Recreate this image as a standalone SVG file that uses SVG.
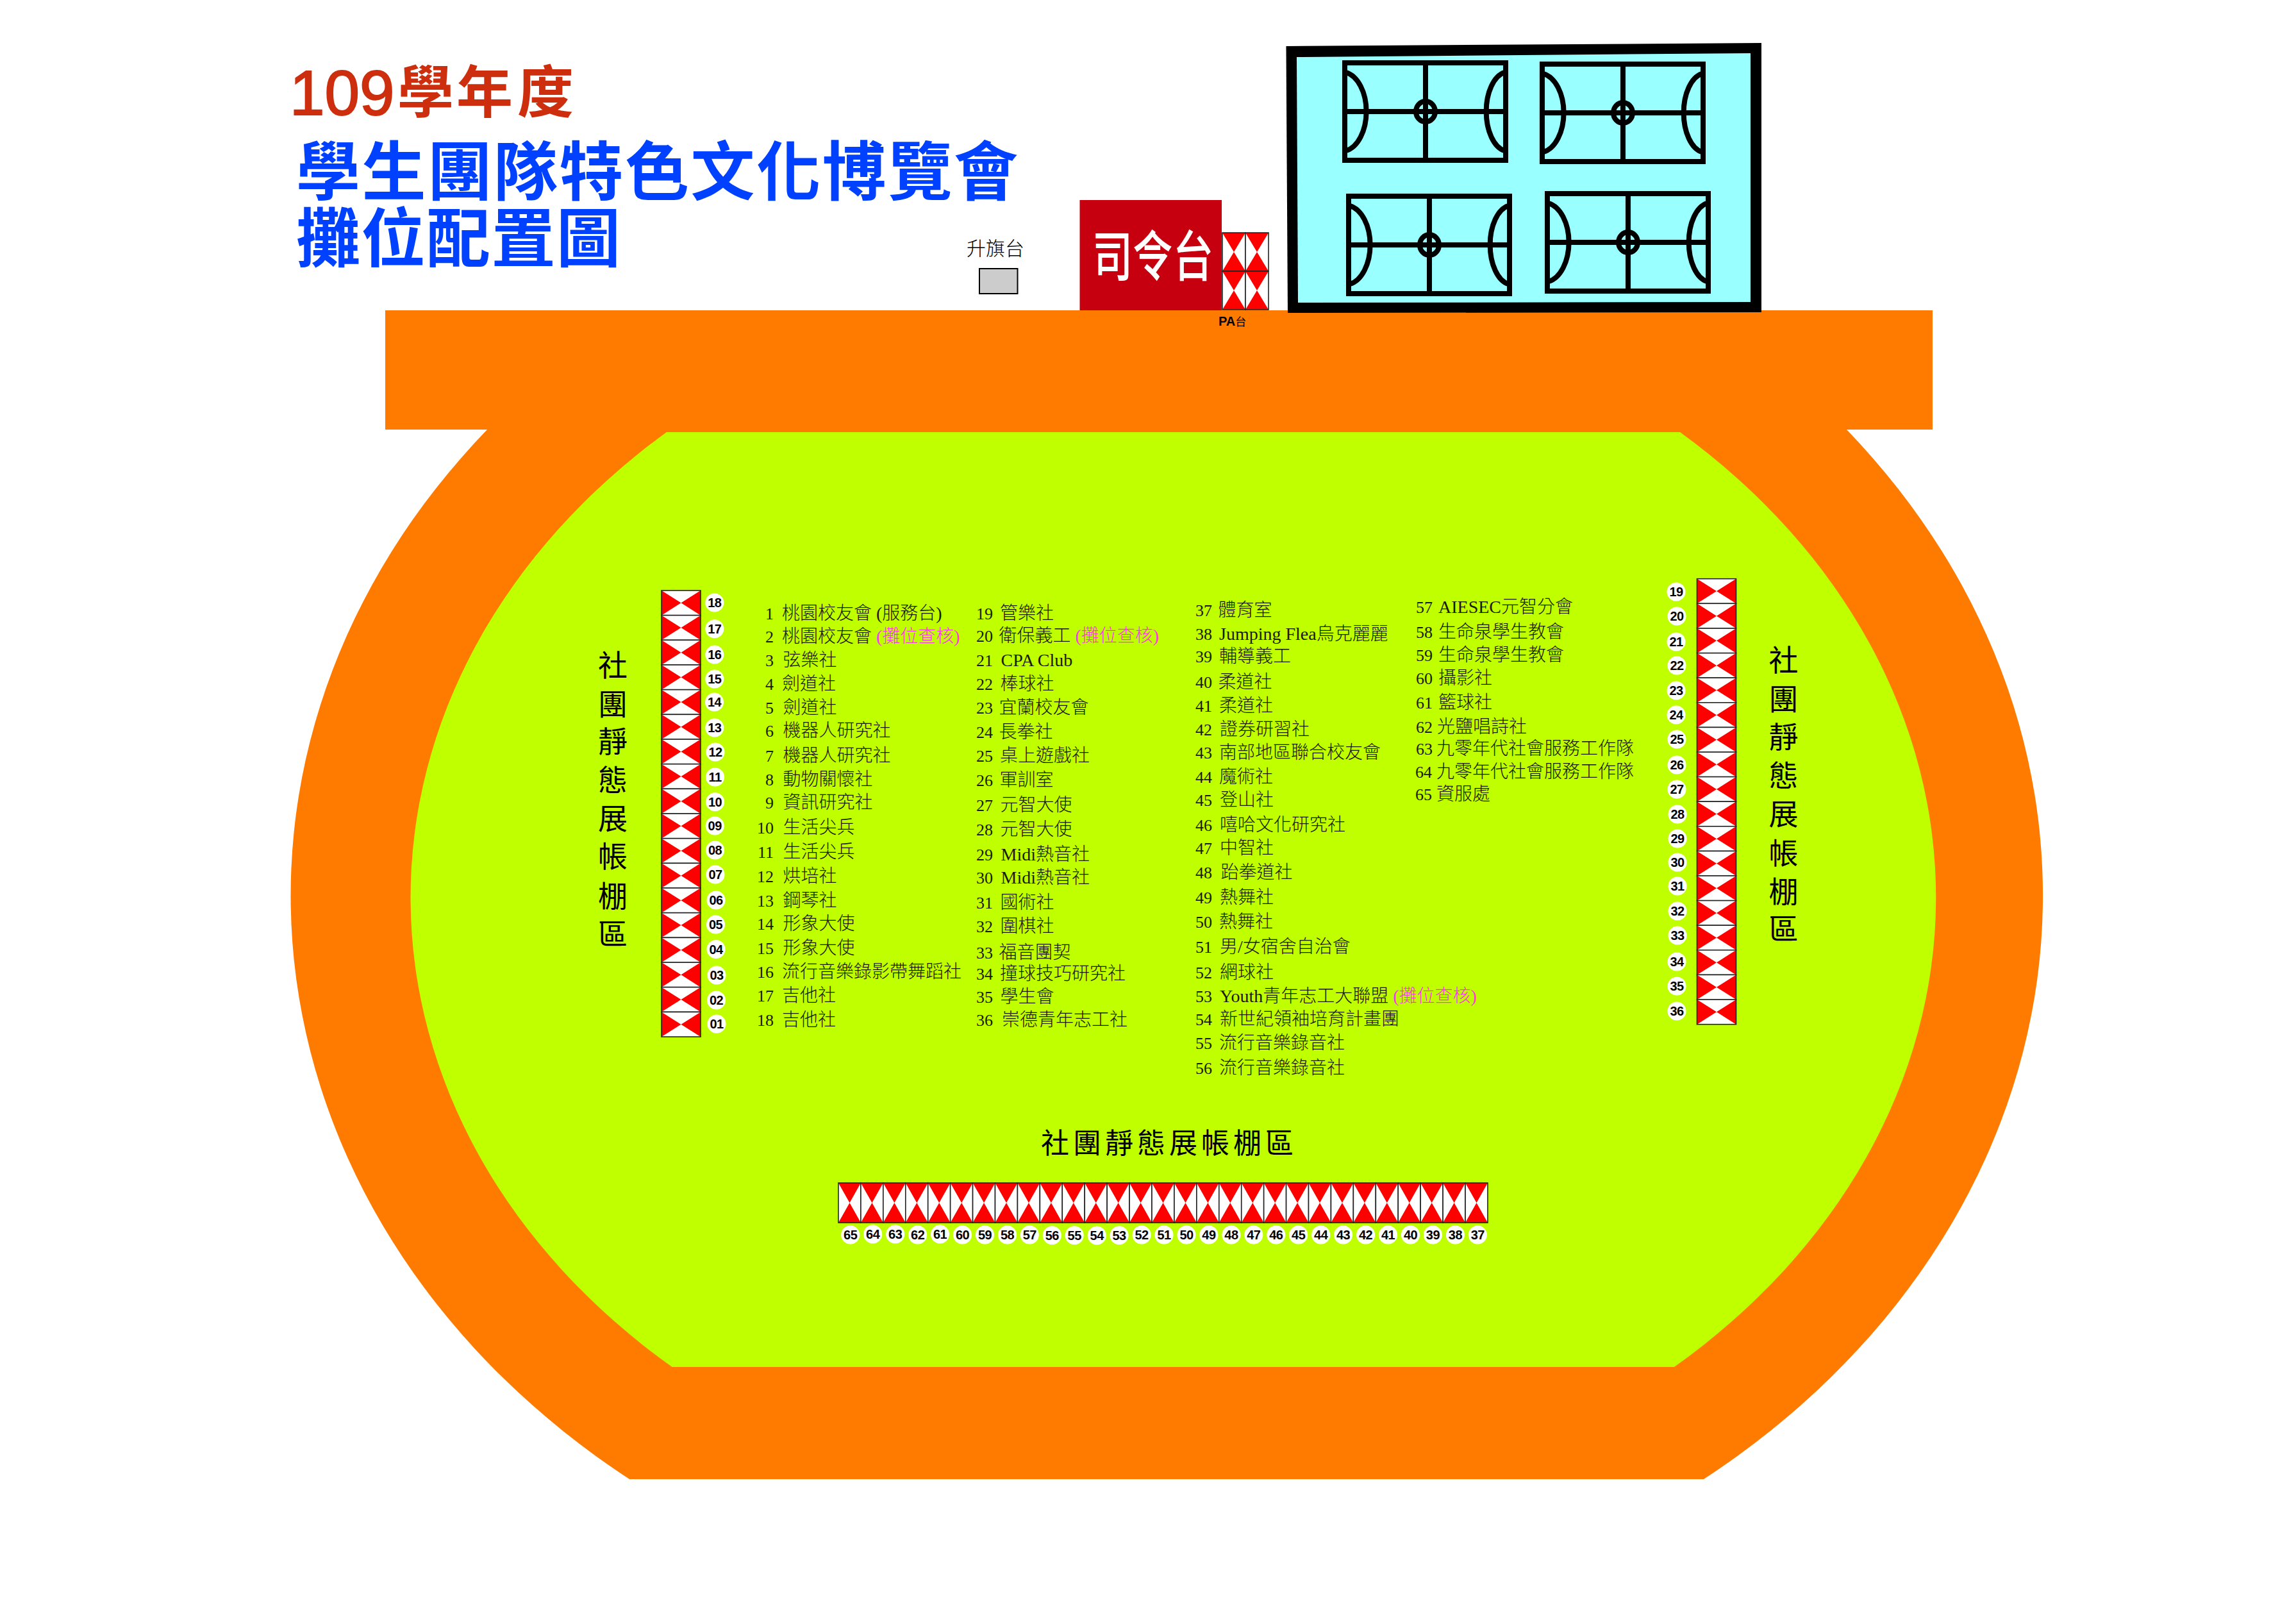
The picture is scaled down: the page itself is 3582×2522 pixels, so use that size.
<svg xmlns="http://www.w3.org/2000/svg" width="3582" height="2522" viewBox="0 0 3582 2522">
<style>
.cjk{font-family:"Noto Sans CJK TC","Liberation Sans",sans-serif}
.li{font-family:"Liberation Serif","Noto Sans CJK TC",serif;font-size:28px;font-weight:300;fill:#1a1a00}
.li .r{text-anchor:end;font-size:26px}
.pk{fill:#ff33ee}
.bad{fill:#fff}
.no{font-family:"Liberation Sans",sans-serif;font-weight:700;font-size:20px;text-anchor:middle;fill:#000;letter-spacing:-.5px}
.lbl{font-family:"Noto Sans CJK TC",sans-serif;font-size:46px;fill:#000;text-anchor:middle}
.cl{fill:none;stroke:#000;stroke-width:8}
.ca{fill:none;stroke:#000;stroke-width:8}
</style>
<defs>
<g id="cellH"><rect width="61" height="38.67" fill="#f00"/><path d="M0 0H61L30.5 19.33ZM0 38.67H61L30.5 19.33Z" fill="#fff"/><rect width="61" height="38.67" fill="none" stroke="#222" stroke-width="1.6"/></g>
<g id="cellV"><rect width="34.93" height="62" fill="#f00"/><path d="M0 0V62L17.5 31ZM34.93 0V62L17.5 31Z" fill="#fff"/><rect width="34.93" height="62" fill="none" stroke="#222" stroke-width="1.6"/></g>
<g id="cellP"><rect width="36" height="60" fill="#f00"/><path d="M0 0V60L18 30ZM36 0V60L18 30Z" fill="#fff"/><rect width="36" height="60" fill="none" stroke="#222" stroke-width="1.6"/></g>
<g id="court"><rect x="4" y="4" width="251" height="152" class="cl"/><path d="M130 4V156M4 80H255" class="cl"/><ellipse cx="130" cy="80" rx="15" ry="16" class="ca"/><path d="M6 19A38.500 62 0 0 1 6 141M253 19A34.500 62 0 0 0 253 141" class="ca"/></g>
</defs>
<rect width="3582" height="2522" fill="#fff"/>
<g id="track">
<rect x="601" y="484" width="2414" height="186" fill="#ff7b00"/>
<path d="M761 669A1366.500 1152 0 0 0 982 2307H2658A1366.500 1152 0 0 0 2880 669Z" fill="#ff7b00"/>
<path d="M1040 674A1189.500 971 0 0 0 1048.600 2132H2612A1189.500 971 0 0 0 2621 674Z" fill="#bfff00"/>
</g>
<g id="title">
<text y="179" fill="#cc2e0e" font-family="Liberation Sans,sans-serif" font-size="98" x="452" stroke="#cc2e0e" stroke-width="2">109</text>
<text class="cjk" y="175" fill="#cc2e0e" font-weight="700" font-size="88" x="620 712 807">學年度</text>
<text class="cjk" x="462" y="304" fill="#0040ff" font-weight="700" font-size="100" letter-spacing="2.6">學生團隊特色文化博覽會</text>
<text class="cjk" x="462" y="408" fill="#0040ff" font-weight="700" font-size="100" letter-spacing="1.5">攤位配置圖</text>
</g>
<g id="flag-platform">
<text class="cjk" x="1508" y="398" font-size="30" font-weight="300" fill="#000">升旗台</text>
<rect x="1528" y="419" width="59.500" height="39" fill="#ccc" stroke="#000" stroke-width="2"/>
</g>
<g id="stage">
<rect x="1684.500" y="312" width="221.500" height="172" fill="#c70010"/>
<text class="cjk" transform="translate(1704,431) scale(1,1.36)" font-size="63" fill="#fff" font-weight="500">司令台</text>
</g>
<g id="pa">
<use href="#cellP" x="1907" y="363"/><use href="#cellP" x="1943" y="363"/><use href="#cellP" x="1907" y="423"/><use href="#cellP" x="1943" y="423"/>
<text x="1901" y="508" font-family="Liberation Sans,Noto Sans CJK TC,sans-serif" font-weight="700" font-size="20" fill="#000">PA<tspan class="cjk" font-weight="400" font-size="17">台</tspan></text>
</g>
<g id="courts">
<polygon points="2006.500,72 2748,67 2748,487 2009,488" fill="#000"/>
<polygon points="2023,89 2731,83 2731,471 2025,472" fill="#9ff"/>
<use href="#court" x="2094" y="94"/><use href="#court" x="2402" y="96"/><use href="#court" x="2100" y="302"/><use href="#court" x="2410" y="298"/>
</g>
<g id="tents-left">
<use href="#cellH" x="1032" y="921"/><use href="#cellH" x="1032" y="959.670"/><use href="#cellH" x="1032" y="998.340"/><use href="#cellH" x="1032" y="1037"/><use href="#cellH" x="1032" y="1075.680"/><use href="#cellH" x="1032" y="1114.350"/><use href="#cellH" x="1032" y="1153"/><use href="#cellH" x="1032" y="1191.700"/><use href="#cellH" x="1032" y="1230.360"/><use href="#cellH" x="1032" y="1269"/><use href="#cellH" x="1032" y="1307.700"/><use href="#cellH" x="1032" y="1346.370"/><use href="#cellH" x="1032" y="1385"/><use href="#cellH" x="1032" y="1423.700"/><use href="#cellH" x="1032" y="1462.400"/><use href="#cellH" x="1032" y="1501"/><use href="#cellH" x="1032" y="1539.700"/><use href="#cellH" x="1032" y="1578.400"/>
<g class="bad"><circle cx="1114.800" cy="940" r="14.500"/><circle cx="1114.800" cy="980.700" r="14.500"/><circle cx="1114.800" cy="1021" r="14.500"/><circle cx="1114.800" cy="1059" r="14.500"/><circle cx="1114.500" cy="1095" r="14.500"/><circle cx="1114.800" cy="1135" r="14.500"/><circle cx="1116" cy="1173" r="14.500"/><circle cx="1115.600" cy="1212" r="14.500"/><circle cx="1115.600" cy="1250.700" r="14.500"/><circle cx="1115.200" cy="1288" r="14.500"/><circle cx="1115.600" cy="1326" r="14.500"/><circle cx="1116" cy="1364" r="14.500"/><circle cx="1117" cy="1404" r="14.500"/><circle cx="1116.500" cy="1442" r="14.500"/><circle cx="1117" cy="1480.600" r="14.500"/><circle cx="1118" cy="1521" r="14.500"/><circle cx="1117.500" cy="1560" r="14.500"/><circle cx="1118" cy="1597" r="14.500"/></g>
<g class="no"><text x="1114.800" y="947">18</text><text x="1114.800" y="988">17</text><text x="1114.800" y="1028">16</text><text x="1114.800" y="1066">15</text><text x="1114.500" y="1102">14</text><text x="1114.800" y="1142">13</text><text x="1116" y="1180">12</text><text x="1115.600" y="1219">11</text><text x="1115.600" y="1258">10</text><text x="1115.200" y="1295">09</text><text x="1115.600" y="1333">08</text><text x="1116" y="1371">07</text><text x="1117" y="1411">06</text><text x="1116.500" y="1449">05</text><text x="1117" y="1488">04</text><text x="1118" y="1528">03</text><text x="1117.500" y="1567">02</text><text x="1118" y="1604">01</text></g>
<text class="lbl" x="956 956 956 956 956 956 956 956" y="1054 1115 1173 1233 1293 1352 1414 1473">社團靜態展帳棚區</text>
</g>
<g id="tents-right">
<use href="#cellH" x="2647.500" y="902.700"/><use href="#cellH" x="2647.500" y="941.300"/><use href="#cellH" x="2647.500" y="980"/><use href="#cellH" x="2647.500" y="1018.600"/><use href="#cellH" x="2647.500" y="1057.200"/><use href="#cellH" x="2647.500" y="1095.800"/><use href="#cellH" x="2647.500" y="1134.400"/><use href="#cellH" x="2647.500" y="1173"/><use href="#cellH" x="2647.500" y="1211.600"/><use href="#cellH" x="2647.500" y="1250.200"/><use href="#cellH" x="2647.500" y="1288.800"/><use href="#cellH" x="2647.500" y="1327.400"/><use href="#cellH" x="2647.500" y="1366"/><use href="#cellH" x="2647.500" y="1404.600"/><use href="#cellH" x="2647.500" y="1443.200"/><use href="#cellH" x="2647.500" y="1481.800"/><use href="#cellH" x="2647.500" y="1520.400"/><use href="#cellH" x="2647.500" y="1559"/>
<g class="bad"><circle cx="2615" cy="923" r="14.500"/><circle cx="2616" cy="961" r="14.500"/><circle cx="2615" cy="1001" r="14.500"/><circle cx="2616" cy="1038" r="14.500"/><circle cx="2615" cy="1077" r="14.500"/><circle cx="2615" cy="1115" r="14.500"/><circle cx="2616" cy="1153" r="14.500"/><circle cx="2616" cy="1193" r="14.500"/><circle cx="2616" cy="1231" r="14.500"/><circle cx="2617" cy="1270" r="14.500"/><circle cx="2617" cy="1308" r="14.500"/><circle cx="2617" cy="1345" r="14.500"/><circle cx="2617" cy="1382" r="14.500"/><circle cx="2617" cy="1421" r="14.500"/><circle cx="2617" cy="1459" r="14.500"/><circle cx="2616" cy="1500" r="14.500"/><circle cx="2616" cy="1538" r="14.500"/><circle cx="2616" cy="1577" r="14.500"/></g>
<g class="no"><text x="2615" y="930">19</text><text x="2616" y="968">20</text><text x="2615" y="1008">21</text><text x="2616" y="1045">22</text><text x="2615" y="1084">23</text><text x="2615" y="1122">24</text><text x="2616" y="1160">25</text><text x="2616" y="1200">26</text><text x="2616" y="1238">27</text><text x="2617" y="1277">28</text><text x="2617" y="1315">29</text><text x="2617" y="1352">30</text><text x="2617" y="1389">31</text><text x="2617" y="1428">32</text><text x="2617" y="1466">33</text><text x="2616" y="1507">34</text><text x="2616" y="1545">35</text><text x="2616" y="1584">36</text></g>
<text class="lbl" x="2782.500 2782.500 2782.500 2782.500 2782.500 2782.500 2782.500 2782.500" y="1046 1107 1166 1226 1286 1347 1407 1465">社團靜態展帳棚區</text>
</g>
<g id="tents-bottom">
<use href="#cellV" x="1308" y="1845"/><use href="#cellV" x="1342.930" y="1845"/><use href="#cellV" x="1377.860" y="1845"/><use href="#cellV" x="1412.790" y="1845"/><use href="#cellV" x="1447.720" y="1845"/><use href="#cellV" x="1482.650" y="1845"/><use href="#cellV" x="1517.580" y="1845"/><use href="#cellV" x="1552.510" y="1845"/><use href="#cellV" x="1587.440" y="1845"/><use href="#cellV" x="1622.370" y="1845"/><use href="#cellV" x="1657.300" y="1845"/><use href="#cellV" x="1692.230" y="1845"/><use href="#cellV" x="1727.160" y="1845"/><use href="#cellV" x="1762.090" y="1845"/><use href="#cellV" x="1797.020" y="1845"/><use href="#cellV" x="1831.950" y="1845"/><use href="#cellV" x="1866.880" y="1845"/><use href="#cellV" x="1901.810" y="1845"/><use href="#cellV" x="1936.740" y="1845"/><use href="#cellV" x="1971.670" y="1845"/><use href="#cellV" x="2006.600" y="1845"/><use href="#cellV" x="2041.530" y="1845"/><use href="#cellV" x="2076.460" y="1845"/><use href="#cellV" x="2111.390" y="1845"/><use href="#cellV" x="2146.320" y="1845"/><use href="#cellV" x="2181.250" y="1845"/><use href="#cellV" x="2216.180" y="1845"/><use href="#cellV" x="2251.110" y="1845"/><use href="#cellV" x="2286.040" y="1845"/>
<g class="bad"><circle cx="1326.700" cy="1926" r="14.500"/><circle cx="1361.700" cy="1925" r="14.500"/><circle cx="1396.700" cy="1925" r="14.500"/><circle cx="1431.700" cy="1926" r="14.500"/><circle cx="1466.500" cy="1925" r="14.500"/><circle cx="1501.500" cy="1926" r="14.500"/><circle cx="1536.500" cy="1926" r="14.500"/><circle cx="1571.500" cy="1926" r="14.500"/><circle cx="1606.300" cy="1926" r="14.500"/><circle cx="1641.300" cy="1926.700" r="14.500"/><circle cx="1676.200" cy="1926.700" r="14.500"/><circle cx="1711.200" cy="1927" r="14.500"/><circle cx="1746.100" cy="1926.700" r="14.500"/><circle cx="1781.100" cy="1926" r="14.500"/><circle cx="1816" cy="1926" r="14.500"/><circle cx="1851" cy="1926" r="14.500"/><circle cx="1885.900" cy="1926" r="14.500"/><circle cx="1920.900" cy="1926" r="14.500"/><circle cx="1955.800" cy="1926" r="14.500"/><circle cx="1990.800" cy="1926" r="14.500"/><circle cx="2025.700" cy="1926" r="14.500"/><circle cx="2060.700" cy="1926" r="14.500"/><circle cx="2095.600" cy="1926" r="14.500"/><circle cx="2130.600" cy="1926" r="14.500"/><circle cx="2165.500" cy="1926" r="14.500"/><circle cx="2200.500" cy="1926" r="14.500"/><circle cx="2235.400" cy="1926" r="14.500"/><circle cx="2270.400" cy="1926" r="14.500"/><circle cx="2305.300" cy="1926" r="14.500"/></g>
<g class="no"><text x="1326.700" y="1933">65</text><text x="1361.700" y="1932">64</text><text x="1396.700" y="1932">63</text><text x="1431.700" y="1933">62</text><text x="1466.500" y="1932">61</text><text x="1501.500" y="1933">60</text><text x="1536.500" y="1933">59</text><text x="1571.500" y="1933">58</text><text x="1606.300" y="1933">57</text><text x="1641.300" y="1934">56</text><text x="1676.200" y="1934">55</text><text x="1711.200" y="1934">54</text><text x="1746.100" y="1934">53</text><text x="1781.100" y="1933">52</text><text x="1816" y="1933">51</text><text x="1851" y="1933">50</text><text x="1885.900" y="1933">49</text><text x="1920.900" y="1933">48</text><text x="1955.800" y="1933">47</text><text x="1990.800" y="1933">46</text><text x="2025.700" y="1933">45</text><text x="2060.700" y="1933">44</text><text x="2095.600" y="1933">43</text><text x="2130.600" y="1933">42</text><text x="2165.500" y="1933">41</text><text x="2200.500" y="1933">40</text><text x="2235.400" y="1933">39</text><text x="2270.400" y="1933">38</text><text x="2305.300" y="1933">37</text></g>
<text class="lbl" x="1624" y="1799" style="text-anchor:start;font-size:44px;letter-spacing:6px">社團靜態展帳棚區</text>
</g>
<g id="list" class="li">
<text y="966"><tspan class="r" x="1207">1</tspan><tspan x="1220">桃園校友會 (服務台)</tspan></text>
<text y="1002"><tspan class="r" x="1207">2</tspan><tspan x="1220">桃園校友會 </tspan><tspan class="pk">(攤位查核)</tspan></text>
<text y="1039"><tspan class="r" x="1207">3</tspan><tspan x="1221.500">弦樂社</tspan></text>
<text y="1076"><tspan class="r" x="1207">4</tspan><tspan x="1220">劍道社</tspan></text>
<text y="1113"><tspan class="r" x="1207">5</tspan><tspan x="1221.500">劍道社</tspan></text>
<text y="1149"><tspan class="r" x="1207">6</tspan><tspan x="1221.500">機器人研究社</tspan></text>
<text y="1188"><tspan class="r" x="1207">7</tspan><tspan x="1221.500">機器人研究社</tspan></text>
<text y="1225"><tspan class="r" x="1207">8</tspan><tspan x="1221.500">動物關懷社</tspan></text>
<text y="1261"><tspan class="r" x="1207">9</tspan><tspan x="1221.500">資訊研究社</tspan></text>
<text y="1300"><tspan class="r" x="1207">10</tspan><tspan x="1221.500">生活尖兵</tspan></text>
<text y="1338"><tspan class="r" x="1207">11</tspan><tspan x="1221.500">生活尖兵</tspan></text>
<text y="1376"><tspan class="r" x="1207">12</tspan><tspan x="1221.500">烘培社</tspan></text>
<text y="1414"><tspan class="r" x="1207">13</tspan><tspan x="1221.500">鋼琴社</tspan></text>
<text y="1450"><tspan class="r" x="1207">14</tspan><tspan x="1221.500">形象大使</tspan></text>
<text y="1488"><tspan class="r" x="1207">15</tspan><tspan x="1221.500">形象大使</tspan></text>
<text y="1525"><tspan class="r" x="1207">16</tspan><tspan x="1220">流行音樂錄影帶舞蹈社</tspan></text>
<text y="1562"><tspan class="r" x="1207">17</tspan><tspan x="1220">吉他社</tspan></text>
<text y="1600"><tspan class="r" x="1207">18</tspan><tspan x="1220">吉他社</tspan></text>
<text y="966"><tspan class="r" x="1549">19</tspan><tspan x="1560">管樂社</tspan></text>
<text y="1001"><tspan class="r" x="1549">20</tspan><tspan x="1558.500">衛保義工 </tspan><tspan class="pk">(攤位查核)</tspan></text>
<text y="1039"><tspan class="r" x="1549">21</tspan><tspan x="1561.500">CPA Club</tspan></text>
<text y="1076"><tspan class="r" x="1549">22</tspan><tspan x="1560.500">棒球社</tspan></text>
<text y="1113"><tspan class="r" x="1549">23</tspan><tspan x="1558.500">宜蘭校友會</tspan></text>
<text y="1151"><tspan class="r" x="1549">24</tspan><tspan x="1558.500">長拳社</tspan></text>
<text y="1188"><tspan class="r" x="1549">25</tspan><tspan x="1560">桌上遊戲社</tspan></text>
<text y="1226"><tspan class="r" x="1549">26</tspan><tspan x="1559.500">軍訓室</tspan></text>
<text y="1265"><tspan class="r" x="1549">27</tspan><tspan x="1560.500">元智大使</tspan></text>
<text y="1303"><tspan class="r" x="1549">28</tspan><tspan x="1560.500">元智大使</tspan></text>
<text y="1342"><tspan class="r" x="1549">29</tspan><tspan x="1561.500">Midi熱音社</tspan></text>
<text y="1378"><tspan class="r" x="1549">30</tspan><tspan x="1561.500">Midi熱音社</tspan></text>
<text y="1417"><tspan class="r" x="1549">31</tspan><tspan x="1560.500">國術社</tspan></text>
<text y="1454"><tspan class="r" x="1549">32</tspan><tspan x="1560.500">圍棋社</tspan></text>
<text y="1495"><tspan class="r" x="1549">33</tspan><tspan x="1558.500">福音團契</tspan></text>
<text y="1528"><tspan class="r" x="1549">34</tspan><tspan x="1560">撞球技巧研究社</tspan></text>
<text y="1564"><tspan class="r" x="1549">35</tspan><tspan x="1560.500">學生會</tspan></text>
<text y="1600"><tspan class="r" x="1549">36</tspan><tspan x="1563">崇德青年志工社</tspan></text>
<text y="961"><tspan class="r" x="1891">37</tspan><tspan x="1900.500">體育室</tspan></text>
<text y="998"><tspan class="r" x="1891">38</tspan><tspan x="1902">Jumping Flea烏克麗麗</tspan></text>
<text y="1033"><tspan class="r" x="1891">39</tspan><tspan x="1902">輔導義工</tspan></text>
<text y="1073"><tspan class="r" x="1891">40</tspan><tspan x="1900.500">柔道社</tspan></text>
<text y="1110"><tspan class="r" x="1891">41</tspan><tspan x="1902">柔道社</tspan></text>
<text y="1147"><tspan class="r" x="1891">42</tspan><tspan x="1903">證券研習社</tspan></text>
<text y="1183"><tspan class="r" x="1891">43</tspan><tspan x="1902">南部地區聯合校友會</tspan></text>
<text y="1221"><tspan class="r" x="1891">44</tspan><tspan x="1902">魔術社</tspan></text>
<text y="1257"><tspan class="r" x="1891">45</tspan><tspan x="1903">登山社</tspan></text>
<text y="1296"><tspan class="r" x="1891">46</tspan><tspan x="1903">嘻哈文化研究社</tspan></text>
<text y="1332"><tspan class="r" x="1891">47</tspan><tspan x="1903">中智社</tspan></text>
<text y="1370"><tspan class="r" x="1891">48</tspan><tspan x="1904.500">跆拳道社</tspan></text>
<text y="1409"><tspan class="r" x="1891">49</tspan><tspan x="1903">熱舞社</tspan></text>
<text y="1447"><tspan class="r" x="1891">50</tspan><tspan x="1902">熱舞社</tspan></text>
<text y="1486"><tspan class="r" x="1891">51</tspan><tspan x="1903">男/女宿舍自治會</tspan></text>
<text y="1526"><tspan class="r" x="1891">52</tspan><tspan x="1903">網球社</tspan></text>
<text y="1563"><tspan class="r" x="1891">53</tspan><tspan x="1903">Youth青年志工大聯盟 </tspan><tspan class="pk">(攤位查核)</tspan></text>
<text y="1599"><tspan class="r" x="1891">54</tspan><tspan x="1903">新世紀領袖培育計畫團</tspan></text>
<text y="1636"><tspan class="r" x="1891">55</tspan><tspan x="1902">流行音樂錄音社</tspan></text>
<text y="1675"><tspan class="r" x="1891">56</tspan><tspan x="1902">流行音樂錄音社</tspan></text>
<text y="956"><tspan class="r" x="2235">57</tspan><tspan x="2244">AIESEC元智分會</tspan></text>
<text y="995"><tspan class="r" x="2235">58</tspan><tspan x="2244">生命泉學生教會</tspan></text>
<text y="1031"><tspan class="r" x="2235">59</tspan><tspan x="2244">生命泉學生教會</tspan></text>
<text y="1067"><tspan class="r" x="2235">60</tspan><tspan x="2244">攝影社</tspan></text>
<text y="1105"><tspan class="r" x="2235">61</tspan><tspan x="2244">籃球社</tspan></text>
<text y="1143"><tspan class="r" x="2235">62</tspan><tspan x="2242">光鹽唱詩社</tspan></text>
<text y="1177"><tspan class="r" x="2235">63</tspan><tspan x="2241">九零年代社會服務工作隊</tspan></text>
<text y="1213"><tspan class="r" x="2234">64</tspan><tspan x="2241">九零年代社會服務工作隊</tspan></text>
<text y="1248"><tspan class="r" x="2234">65</tspan><tspan x="2241">資服處</tspan></text>
</g>
</svg>
